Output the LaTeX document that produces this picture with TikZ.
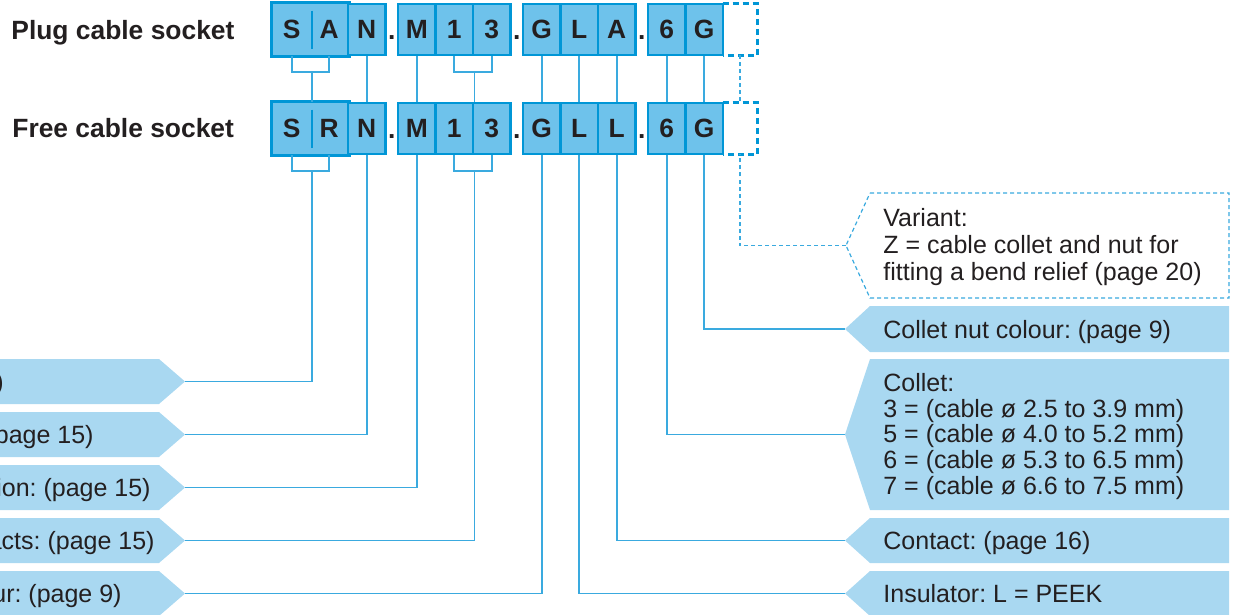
\documentclass[tikz,border=0pt]{standalone}
\usepackage{fontspec}
\setmainfont{Liberation Sans}
\usepackage{tikz}
\usetikzlibrary{calc}
\frenchspacing
\definecolor{ink}{HTML}{231F20}
\definecolor{cellbg}{HTML}{6EC2EB}
\definecolor{edge}{HTML}{0096D6}
\definecolor{tagbg}{HTML}{A9D8F1}
\definecolor{wirec}{HTML}{3AAADF}
\tikzset{
  cell/.style={draw=edge, fill=cellbg, line width=1.3pt, minimum width=18.75pt, minimum height=25.5pt, inner sep=0pt, text=ink, font=\fontsize{13.2}{15}\selectfont\bfseries, text height=9.5pt, text depth=0pt},
  half/.style={cell, draw=none},
  ghost/.style={minimum width=17pt, minimum height=25.5pt, inner sep=0pt},
  sep/.style={text=ink, font=\fontsize{13.2}{15}\selectfont\bfseries, inner sep=0pt, anchor=base},
  wire/.style={draw=wirec, line width=0.8pt},
  dwire/.style={draw=wirec, line width=0.8pt, dash pattern=on 2pt off 1.5pt},
  dcell/.style={draw=edge, line width=1.3pt, dash pattern=on 3pt off 2pt},
  tag/.style={fill=tagbg},
  tagd/.style={draw=wirec, line width=0.6pt, dash pattern=on 2pt off 1.5pt, fill=white},
  txt/.style={text=ink, font=\fontsize{12.5}{12.8}\selectfont, inner sep=0pt},
  ttl/.style={text=ink, font=\fontsize{13.2}{15}\selectfont\bfseries, inner sep=0pt, anchor=base west},
}

\begin{document}
\begin{tikzpicture}[x=0.5pt, y=-0.5pt]
  \useasboundingbox (0,0) rectangle (1237,615);
  \node[ttl] (plug) at (11,40) {Plug cable socket};
  \node[ttl] (free) at (12,138) {Free cable socket};
  % code rows
  \foreach \r/\y/\t/\c in {a/29.5/A/A, b/128.5/R/L}{
    \node[half] (\r s) at (291.75,\y) {S};
    \node[half] (\r t) at (329.25,\y) {\t};
    \draw[draw=edge, line width=1.3pt] (\r s.north west) rectangle (\r t.south east);
    \draw[draw=edge, line width=0.9pt] ($(\r s.north east)+(0,8)$) -- ($(\r s.south east)+(0,-7)$);
    \foreach \n/\x/\l in {n/366.75/N, m/416.75/M, p/454.25/1, q/491.75/3, g/541.75/G, i/579.25/L, c/616.75/\c, k/666.75/6, u/704.25/G}
      \node[cell] (\r\n) at (\x,\y) {\l};
    \foreach \x [count=\k] in {391.75, 516.75, 641.75}
      \node[sep] (\r d\k) at (\x,\y+10.5) {.};
    \node[ghost] (\r v) at (740,\y) {};
    \draw[dcell] (\r v.north west) -- (\r v.north east) -- (\r v.south east) -- (\r v.south west);
  }
  % between the rows
  \draw[wire] (as.south) -- ++(0,16) -| (at.south);
  \draw[wire] ($(as.south east)+(0,16)$) -- (bs.north east);
  \draw[wire] (ap.south) -- ++(0,16) -| (aq.south);
  \draw[wire] ($(ap.south east)+(0,16)$) -- (bp.north east);
  \foreach \n in {n,m,g,i,c,k,u}
    \draw[wire] (a\n.south) -- (b\n.north);
  \draw[dwire] (av.south) -- (bv.north);
  \draw[wire] (bs.south) -- ++(0,16) -| (bt.south);
  \draw[wire] (bp.south) -- ++(0,16) -| (bq.south);
  \coordinate (bsm) at ($(bs.south east)+(0,16)$);
  \coordinate (bpm) at ($(bp.south east)+(0,16)$);
  % left tags
  \foreach \n/\t/\b/\e/\s in {l1/359/404/4/{)}, l2/412/457/94/{(page 15)}, l3/465/510/151/{ion: (page 15)}, l4/518/563/155/{acts: (page 15)}, l5/571/616/122/{ur: (page 9)}}{
    \fill[tag] (-10,\t) -- (159,\t) -- (185,{(\t+\b)/2}) -- (159,\b) -- (-10,\b) -- cycle;
    \coordinate (\n) at (185,{(\t+\b)/2});
    \node[txt, anchor=base east] (\n t) at (\e,{(\t+\b)/2+9}) {\s};
  }
  % right tags
  \foreach \n/\t/\b in {nut/306/352, col/359/510, con/518/563, ins/571/616}{
    \fill[tag] (870,\t) -- (1229,\t) -- (1229,\b) -- (870,\b) -- (845,{(\t+\b)/2}) -- cycle;
    \coordinate (\n) at (845,{(\t+\b)/2});
  }
  \draw[tagd] (870,193) -- (1229,193) -- (1229,298) -- (870,298) -- (846,245.5) -- cycle;
  \coordinate (var) at (846,245.5);
  \node[txt, anchor=base west, align=left, font=\fontsize{12.5}{13.3}\selectfont] (vart) at (883,280) {Variant:\\Z = cable collet and nut for\\fitting a bend relief (page 20)};
  \node[txt, anchor=base west] (nutt) at (883,338) {Collet nut colour: (page 9)};
  \node[txt, anchor=base west, align=left] (colt) at (883,494) {Collet:\\3 = (cable ø 2.5 to 3.9 mm)\\5 = (cable ø 4.0 to 5.2 mm)\\6 = (cable ø 5.3 to 6.5 mm)\\7 = (cable ø 6.6 to 7.5 mm)};
  \node[txt, anchor=base west] (cont) at (883,549.5) {Contact: (page 16)};
  \node[txt, anchor=base west] (inst) at (883,602.5) {Insulator: L = PEEK};
  % connectors
  \draw[wire] (l1) -| (bsm);
  \draw[wire] (l2) -| (bn.south);
  \draw[wire] (l3) -| (bm.south);
  \draw[wire] (l4) -| (bpm);
  \draw[wire] (l5) -| (bg.south);
  \draw[dwire] (var) -| (bv.south);
  \draw[wire] (nut) -| (bu.south);
  \draw[wire] (col) -| (bk.south);
  \draw[wire] (con) -| (bc.south);
  \draw[wire] (ins) -| (bi.south);
\end{tikzpicture}
\end{document}
